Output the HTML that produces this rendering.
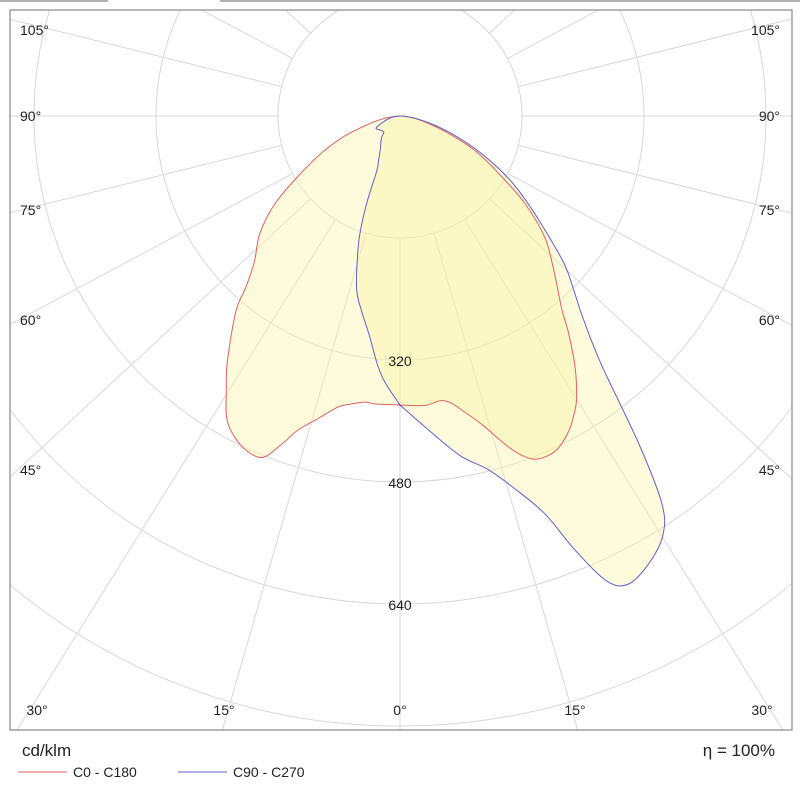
<!DOCTYPE html>
<html><head><meta charset="utf-8"><style>
html,body{margin:0;padding:0;background:#fff;width:800px;height:791px;overflow:hidden;}
svg{display:block;font-family:"Liberation Sans",sans-serif;}
</style></head><body>
<svg width="800" height="791" viewBox="0 0 800 791">
<defs><clipPath id="clip"><rect x="10" y="10" width="782" height="720"/></clipPath></defs>
<line x1="0" y1="1" x2="108" y2="1" stroke="#999" stroke-width="1.5"/>
<line x1="220" y1="1" x2="800" y2="1" stroke="#999" stroke-width="1.5"/>
<g id="grid" clip-path="url(#clip)"></g>
<g id="curves" clip-path="url(#clip)"></g>
<rect x="10" y="10" width="782" height="720" fill="none" stroke="#888" stroke-width="1.2"/>
<g id="labels" font-size="14" fill="#222"></g>
<text x="22" y="756" font-size="17" fill="#222">cd/klm</text>
<text x="775" y="756" font-size="17" fill="#222" text-anchor="end">η =  100%</text>
<g>
<line x1="18" y1="772" x2="67" y2="772" stroke="#e06060" stroke-width="1"/>
<text x="73" y="777" font-size="14" fill="#222">C0 - C180</text></g>
<g>
<line x1="178" y1="772" x2="227" y2="772" stroke="#6060d0" stroke-width="1"/>
<text x="233" y="777" font-size="14" fill="#222">C90 - C270</text></g>
</svg>
<script>
const ringValues=[160,320,480,640,800,960,1120];
const ringLabels=["320","480","640"];
const c0Angles=[0,5,8,10,12,15,18,20,22,25,28,30,32,35,38,40,45,50,55,60,65,70,75,80,85,90];
const c0Values=[379,381,377,382,395,420,455,475,485,484,470,455,437,400,358,330,285,248,200,148,110,70,40,22,8,0];
const c180Angles=[0,5,7,10,12,15,18,20,22,25,28,30,32,35,40,42,45,50,55,60,65,70,75,80,85,90];
const c180Values=[379,379,378,384,390,410,433,460,483,482,470,455,430,395,335,302,270,240,200,150,112,78,45,25,10,0];
const c90Angles=[0,5,10,14,17,20,22,24,26,29,32,34,36,39,42,45,48,52,56,60,65,70,75,80,85,90];
const c90Values=[379,412,452,478,510,555,615,668,683,672,650,615,535,420,360,322,290,240,200,165,120,80,48,25,10,0];
const c270Angles=[0,3,5,8,11,14,17,19,21,23,26,30,40,45,55,63,70,80,90];
const c270Values=[379,352,330,290,262,235,190,160,120,78,64,52,38,30,32,35,24,12,0];
const cx=400,cy=116,scale=122/160,lineStretch=1.08;
const NS="http://www.w3.org/2000/svg";
function pt(g,v,side){const a=g*Math.PI/180;return [cx+side*v*scale*Math.sin(a),cy+v*scale*Math.cos(a)];}
function mk(t,attrs,parent){const e=document.createElementNS(NS,t);for(const k in attrs)e.setAttribute(k,attrs[k]);parent.appendChild(e);return e;}
const grid=document.getElementById('grid');
ringValues.forEach(v=>{
 const c=mk('circle',{cx:cx,cy:cy,r:v*scale,fill:'none',stroke:'#d8d8d8','stroke-width':1},grid);
 
 
});
for(let g=0;g<=180;g+=15){[1,-1].forEach(s=>{
 if((g===0||g===180)&&s===-1)return;
 const a=g*Math.PI/180;let dx=s*lineStretch*Math.sin(a),dy=Math.cos(a);const n=Math.hypot(dx,dy);dx/=n;dy/=n;
 const r1=122,r2=1400;
 const l=mk('line',{x1:cx+dx*r1,y1:cy+dy*r1,x2:cx+dx*r2,y2:cy+dy*r2,stroke:'#d8d8d8','stroke-width':1},grid);
 
 
});}
function poly(lA,lV,rA,rV){const pts=[];for(let i=lA.length-1;i>=0;i--)pts.push(pt(lA[i],lV[i],-1));for(let i=0;i<rA.length;i++)pts.push(pt(rA[i],rV[i],1));
 let d='M'+pts[0][0].toFixed(1)+','+pts[0][1].toFixed(1);
 for(let i=0;i<pts.length-1;i++){const p0=pts[Math.max(i-1,0)],p1=pts[i],p2=pts[i+1],p3=pts[Math.min(i+2,pts.length-1)];
  const c1=[p1[0]+(p2[0]-p0[0])/6,p1[1]+(p2[1]-p0[1])/6],c2=[p2[0]-(p3[0]-p1[0])/6,p2[1]-(p3[1]-p1[1])/6];
  d+='C'+c1.map(n=>n.toFixed(1))+' '+c2.map(n=>n.toFixed(1))+' '+p2.map(n=>n.toFixed(1));}
 return d+'Z';}
const curves=document.getElementById('curves');
const dA=poly(c180Angles,c180Values,c0Angles,c0Values);
const dB=poly(c270Angles,c270Values,c90Angles,c90Values);
const f1=mk('path',{d:dA,fill:'#fbf5a0','fill-opacity':0.38},curves);


const f2=mk('path',{d:dB,fill:'#fbf5a0','fill-opacity':0.38},curves);


const s1=mk('path',{d:dA,fill:'none',stroke:'#e06060','stroke-width':1},curves);


const s2=mk('path',{d:dB,fill:'none',stroke:'#6060d0','stroke-width':1},curves);


const labels=document.getElementById('labels');
ringLabels.forEach(t=>{
 const v=+t;
 const e=mk('text',{x:cx,y:cy+v*scale+6,'text-anchor':'middle'},labels);
 e.textContent=t;
 
 
});
const sideAngles=["105°","90°","75°","60°","45°"];
const sideY=[35,121,215,325,475];
sideAngles.forEach((t,i)=>{
 const a=mk('text',{x:20,y:sideY[i]},labels);a.textContent=t;
 
 
 const b=mk('text',{x:780,y:sideY[i],'text-anchor':'end'},labels);b.textContent=t;
 
 
});
const bottomAngles=["30°","15°","0°","15°","30°"];
const bottomX=[37,224,400,575,762];
bottomAngles.forEach((t,i)=>{
 const a=mk('text',{x:bottomX[i],y:715,'text-anchor':'middle'},labels);a.textContent=t;
 
 
});
</script>
</body></html>
